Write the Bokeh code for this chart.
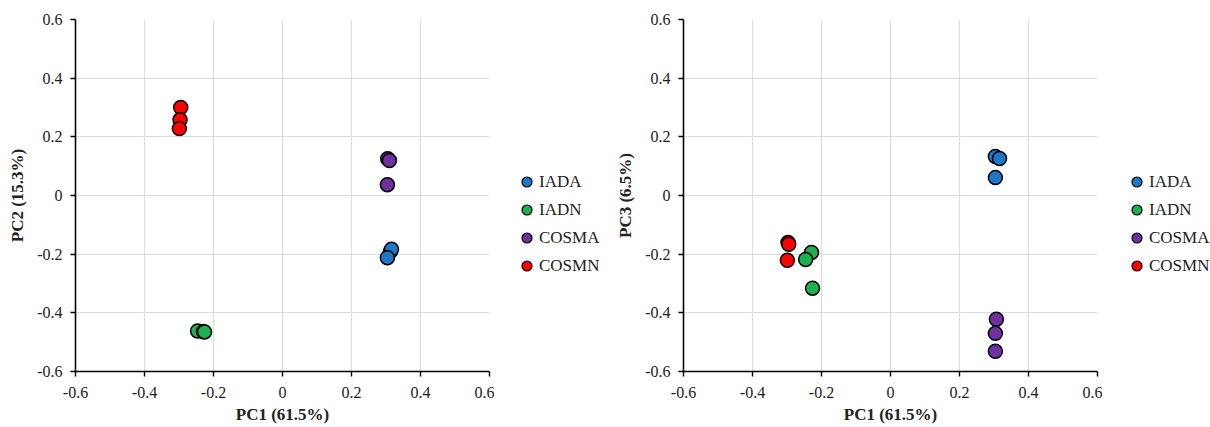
from bokeh.plotting import figure
from bokeh.layouts import row
from bokeh.models import (Legend, LegendItem, FixedTicker, CustomJSTickFormatter,
                          Range1d)
from bokeh.embed import file_html
from bokeh.resources import INLINE

# ---- data ----
groups = ["IADA", "IADN", "COSMA", "COSMN"]
group_colors = ["#1F77C8", "#1DB04F", "#7030A0", "#FF0000"]
tick_values = [-0.6, -0.4, -0.2, 0, 0.2, 0.4, 0.6]

# Panel 1: PC1 vs PC2
pc1_a = {
    "IADA": [0.313, 0.316, 0.304],
    "IADN": [-0.246, -0.229, -0.226],
    "COSMA": [0.305, 0.310, 0.304],
    "COSMN": [-0.295, -0.297, -0.299],
}
pc2 = {
    "IADA": [-0.190, -0.183, -0.212],
    "IADN": [-0.462, -0.464, -0.465],
    "COSMA": [0.125, 0.119, 0.037],
    "COSMN": [0.300, 0.258, 0.228],
}
# Panel 2: PC1 vs PC3
pc1_b = {
    "IADA": [0.304, 0.316, 0.304],
    "IADN": [-0.229, -0.246, -0.226],
    "COSMA": [0.307, 0.304, 0.304],
    "COSMN": [-0.297, -0.295, -0.299],
}
pc3 = {
    "IADA": [0.133, 0.126, 0.061],
    "IADN": [-0.194, -0.218, -0.316],
    "COSMA": [-0.422, -0.470, -0.531],
    "COSMN": [-0.160, -0.166, -0.221],
}
xlabel = "PC1 (61.5%)"
ylabels = ["PC2 (15.3%)", "PC3 (6.5%)"]

FONT = "Liberation Serif"
H = 427

fmt = CustomJSTickFormatter(code="""
const v = Math.round(tick * 10) / 10;
return v === 0 ? "0" : v.toFixed(1);
""")


def make_panel(xd, yd, ylab, width, bl, br):
    p = figure(width=width, height=H,
               x_range=Range1d(-0.6, 0.6), y_range=Range1d(-0.6, 0.6),
               output_backend="svg", toolbar_location=None,
               min_border_left=bl, min_border_right=br,
               min_border_top=19, min_border_bottom=56)
    p.outline_line_color = None
    p.background_fill_color = "white"
    p.border_fill_color = "white"
    for ax in (p.xaxis[0], p.yaxis[0]):
        ax.ticker = FixedTicker(ticks=tick_values)
        ax.formatter = fmt
        ax.axis_line_color = "black"
        ax.axis_line_width = 1.6
        ax.major_tick_line_color = "black"
        ax.major_tick_line_width = 1.4
        ax.major_tick_in = 0
        ax.major_tick_out = 5
        ax.minor_tick_line_color = None
        ax.major_label_text_font = FONT
        ax.major_label_text_font_size = "16px"
        ax.major_label_text_color = "#222222"
        ax.axis_label_text_font = FONT
        ax.axis_label_text_font_size = "17px"
        ax.axis_label_text_font_style = "bold"
        ax.axis_label_text_color = "#222222"
    p.xaxis[0].axis_label = xlabel
    p.yaxis[0].axis_label = ylab
    p.xaxis[0].major_label_standoff = 10
    p.xaxis[0].axis_label_standoff = 4
    p.yaxis[0].major_label_standoff = 8
    p.yaxis[0].axis_label_standoff = 7
    p.yaxis[0].major_label_orientation = "horizontal"
    for g in (p.xgrid[0], p.ygrid[0]):
        g.ticker = FixedTicker(ticks=tick_values)
        g.grid_line_color = "#DDDDDD"
        g.grid_line_width = 1.2

    for g, c in zip(groups, group_colors):
        p.scatter(xd[g], yd[g], size=14, fill_color=c,
                  line_color="black", line_width=1.5)
    return p


def make_legend_fig(xd, yd, width, vx, vy):
    # narrow figure that only shows the legend; its view range lies away
    # from the data so only the legend entries are visible
    f = figure(width=width, height=H, x_range=Range1d(5, 6),
               y_range=Range1d(5, 6), output_backend="svg",
               toolbar_location=None, min_border=0)
    f.outline_line_color = None
    f.axis.visible = False
    f.grid.visible = False
    f.background_fill_color = "white"
    f.border_fill_color = "white"
    items = []
    for g, c in zip(groups, group_colors):
        r = f.scatter(xd[g], yd[g], size=14, fill_color=c,
                      line_color="black", line_width=1.2)
        items.append(LegendItem(label=g, renderers=[r]))
    leg = Legend(items=items, location=(vx, vy), orientation="vertical",
                 glyph_width=25, glyph_height=25, label_height=25,
                 spacing=3, padding=0, margin=0, label_standoff=-3,
                 border_line_color=None, background_fill_alpha=0,
                 label_text_font=FONT, label_text_font_size="17px",
                 label_text_color="#222222")
    f.add_layout(leg)
    return f


p1 = make_panel(pc1_a, pc2, ylabels[0], 494, 75, 5)
l1 = make_legend_fig(pc1_a, pc2, 106, 20, 93)
p2 = make_panel(pc1_b, pc3, ylabels[1], 502, 83, 5)
l2 = make_legend_fig(pc1_b, pc3, 108, 22, 93)

layout = row(p1, l1, p2, l2)
open("out.html", "w").write(file_html(layout, INLINE))
